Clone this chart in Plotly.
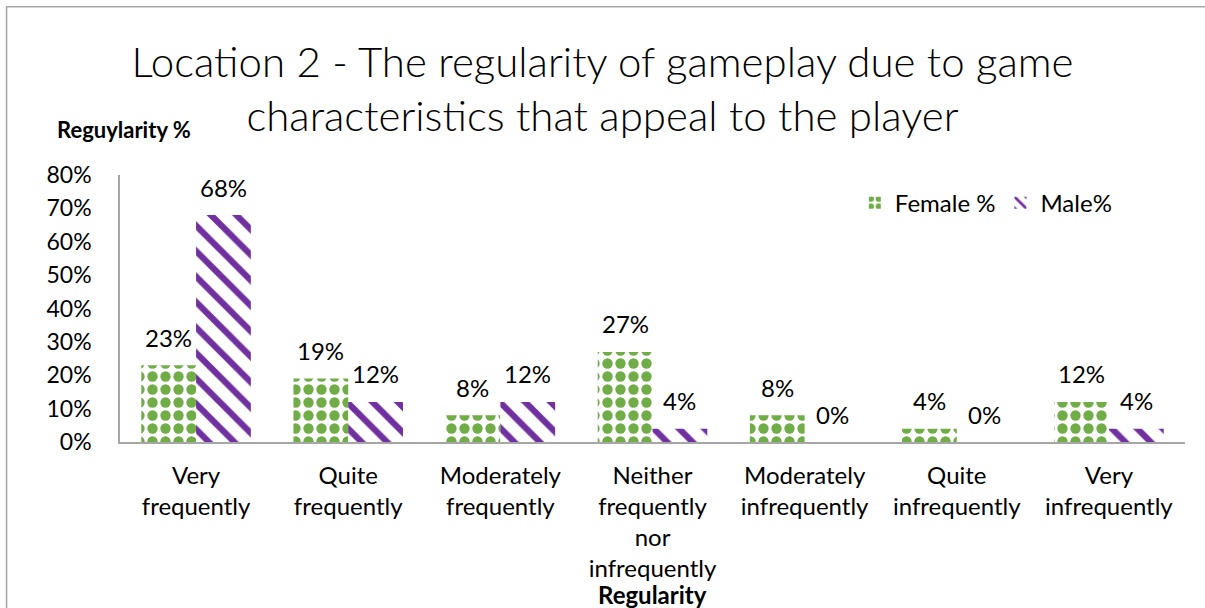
import plotly.graph_objects as go

# Survey answers: how regularly people play because of game characteristics
categories = [
    "Very<br>frequently",
    "Quite<br>frequently",
    "Moderately<br>frequently",
    "Neither<br>frequently<br>nor<br>infrequently",
    "Moderately<br>infrequently",
    "Quite<br>infrequently",
    "Very<br>infrequently",
]
female_pct = [23, 19, 8, 27, 8, 4, 12]
male_pct = [68, 12, 12, 4, 0, 0, 4]
y_ticks = [0, 10, 20, 30, 40, 50, 60, 70, 80]

FONT = "Lato"
GREEN = "#70AD47"
PURPLE = "#7030A0"
AXIS_GREY = "#a6a6a6"

# plot geometry (px) used to place the value labels over each bar
PLOT_W = 1205 - 120 - 20
BARGAP = 0.28
CAT_W = PLOT_W / len(categories)
BAR_W = CAT_W * (1 - BARGAP) / 2

fig = go.Figure()

fig.add_trace(go.Bar(
    name="Female %",
    x=categories,
    y=female_pct,
    marker=dict(
        color="white",
        line=dict(width=0),
        pattern=dict(shape=".", fgcolor=GREEN, bgcolor="white",
                     size=13, solidity=0.5, fillmode="replace"),
    ),
))

fig.add_trace(go.Bar(
    name="Male%",
    x=categories,
    y=male_pct,
    marker=dict(
        color="white",
        line=dict(width=0),
        pattern=dict(shape="\\", fgcolor=PURPLE, bgcolor="white",
                     size=18, solidity=0.35, fillmode="replace"),
    ),
))

# value labels sitting above each bar
labels = []
for series, shift in ((female_pct, -BAR_W / 2), (male_pct, BAR_W / 2)):
    for cat, val in zip(categories, series):
        labels.append(dict(
            x=cat, y=val, xref="x", yref="y", text=f"{val}%",
            xshift=shift, yshift=28, showarrow=False,
            xanchor="center", yanchor="middle",
            font=dict(family=FONT, size=24, color="black"),
        ))

labels += [
    dict(text="<b>Reguylarity %</b>", xref="paper", yref="paper",
         x=0.004, y=1.17, xanchor="center", yanchor="middle",
         showarrow=False, font=dict(family=FONT, size=22)),
    dict(text="<b>Regularity</b>", xref="paper", yref="paper",
         x=0.5, y=-0.572, xanchor="center", yanchor="middle",
         showarrow=False, font=dict(family=FONT, size=24)),
]

fig.update_layout(
    width=1205,
    height=608,
    margin=dict(l=120, r=20, t=175, b=166),
    paper_bgcolor="white",
    plot_bgcolor="white",
    barmode="group",
    bargap=BARGAP,
    bargroupgap=0,
    font=dict(family=FONT, size=24, color="black"),
    title=dict(
        text="Location 2 - The regularity of gameplay due to game<br>characteristics that appeal to the player",
        font=dict(family=FONT, size=42, color="black", weight=300),
        x=0.5,
        xanchor="center",
        y=0.874,
        yanchor="middle",
    ),
    legend=dict(
        orientation="h",
        x=0.69,
        y=0.895,
        xanchor="left",
        yanchor="middle",
        font=dict(family=FONT, size=24),
        bgcolor="rgba(0,0,0,0)",
    ),
    xaxis=dict(
        type="category",
        showline=True,
        linecolor=AXIS_GREY,
        linewidth=1.5,
        ticks="",
        tickfont=dict(family=FONT, size=24),
        ticklabelstandoff=11,
        showgrid=False,
    ),
    yaxis=dict(
        range=[0, 80],
        tickvals=y_ticks,
        ticktext=[f"{v}%" for v in y_ticks],
        showline=True,
        linecolor=AXIS_GREY,
        linewidth=1.5,
        ticks="",
        tickfont=dict(family=FONT, size=23),
        ticklabelstandoff=22,
        showgrid=False,
        zeroline=False,
    ),
    annotations=labels,
    shapes=[
        dict(type="rect", xref="paper", yref="paper",
             x0=-0.1065, x1=1.05, y0=-0.8, y1=1.63,
             line=dict(color=AXIS_GREY, width=1.5), fillcolor="rgba(0,0,0,0)"),
    ],
)

fig.write_html("out.html")
